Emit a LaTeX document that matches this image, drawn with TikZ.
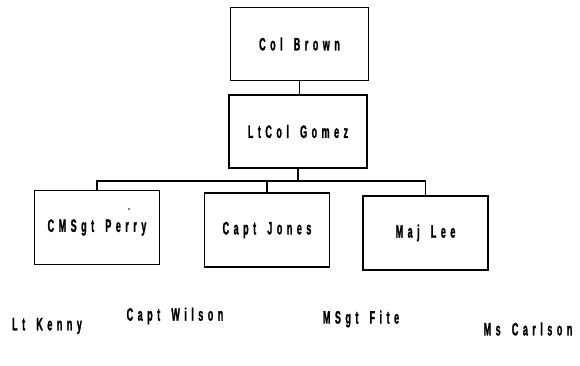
\documentclass[tikz,border=0pt]{standalone}
\usepackage{fontspec}
\newfontfamily\plotfont[FakeStretch=0.5,LetterSpace=25,WordSpace=1.6,FakeBold=1.2]{Liberation Sans}
\usepackage{tikz}
\usetikzlibrary{positioning,calc}

\begin{document}
\begin{tikzpicture}[
    x=1pt, y=-1pt,
    person/.style={draw, line width=1.4pt, minimum width=138pt,
                   minimum height=73pt, inner sep=0pt,
                   font=\plotfont\bfseries\fontsize{18}{22}\selectfont},
    staff/.style={person, minimum width=125pt, minimum height=74pt},
    extra/.style={inner sep=0pt,
                  font=\plotfont\bfseries\fontsize{18}{22}\selectfont},
    link/.style={line width=1.4pt}
]
\useasboundingbox (0,0) rectangle (580,366);

% Commander and deputy
\node[person] (brown) at (299.5,44) {Col Brown};
\node[person] (gomez) at (298,131.5) {LtCol Gomez};

% Staff under the deputy
\node[staff] (perry) at (97,227.5) {CMSgt Perry};
\node[staff] (jones) at (267,230) {Capt Jones};
\node[staff] (lee)   at (425.5,233) {Maj Lee};

% Stray mark in the Perry box
\fill (129,209) circle (0.9);

% Connectors
\coordinate (bar) at (298,181);
\draw[link] (brown.south) -- (brown.south |- gomez.north);
\draw[link] (gomez.south) -- (bar);
\draw[link] (perry.north) |- (bar) -| (lee.north);
\draw[link] (jones.north) -- (jones.north |- bar);

% Names not yet placed
\node[extra] (kenny)   at (47,326)  {Lt Kenny};
\node[extra] (wilson)  at (175,316) {Capt Wilson};
\node[extra] (fite)    at (361,319) {MSgt Fite};
\node[extra] (carlson) at (528,329) {Ms Carlson};

\end{tikzpicture}
\end{document}
